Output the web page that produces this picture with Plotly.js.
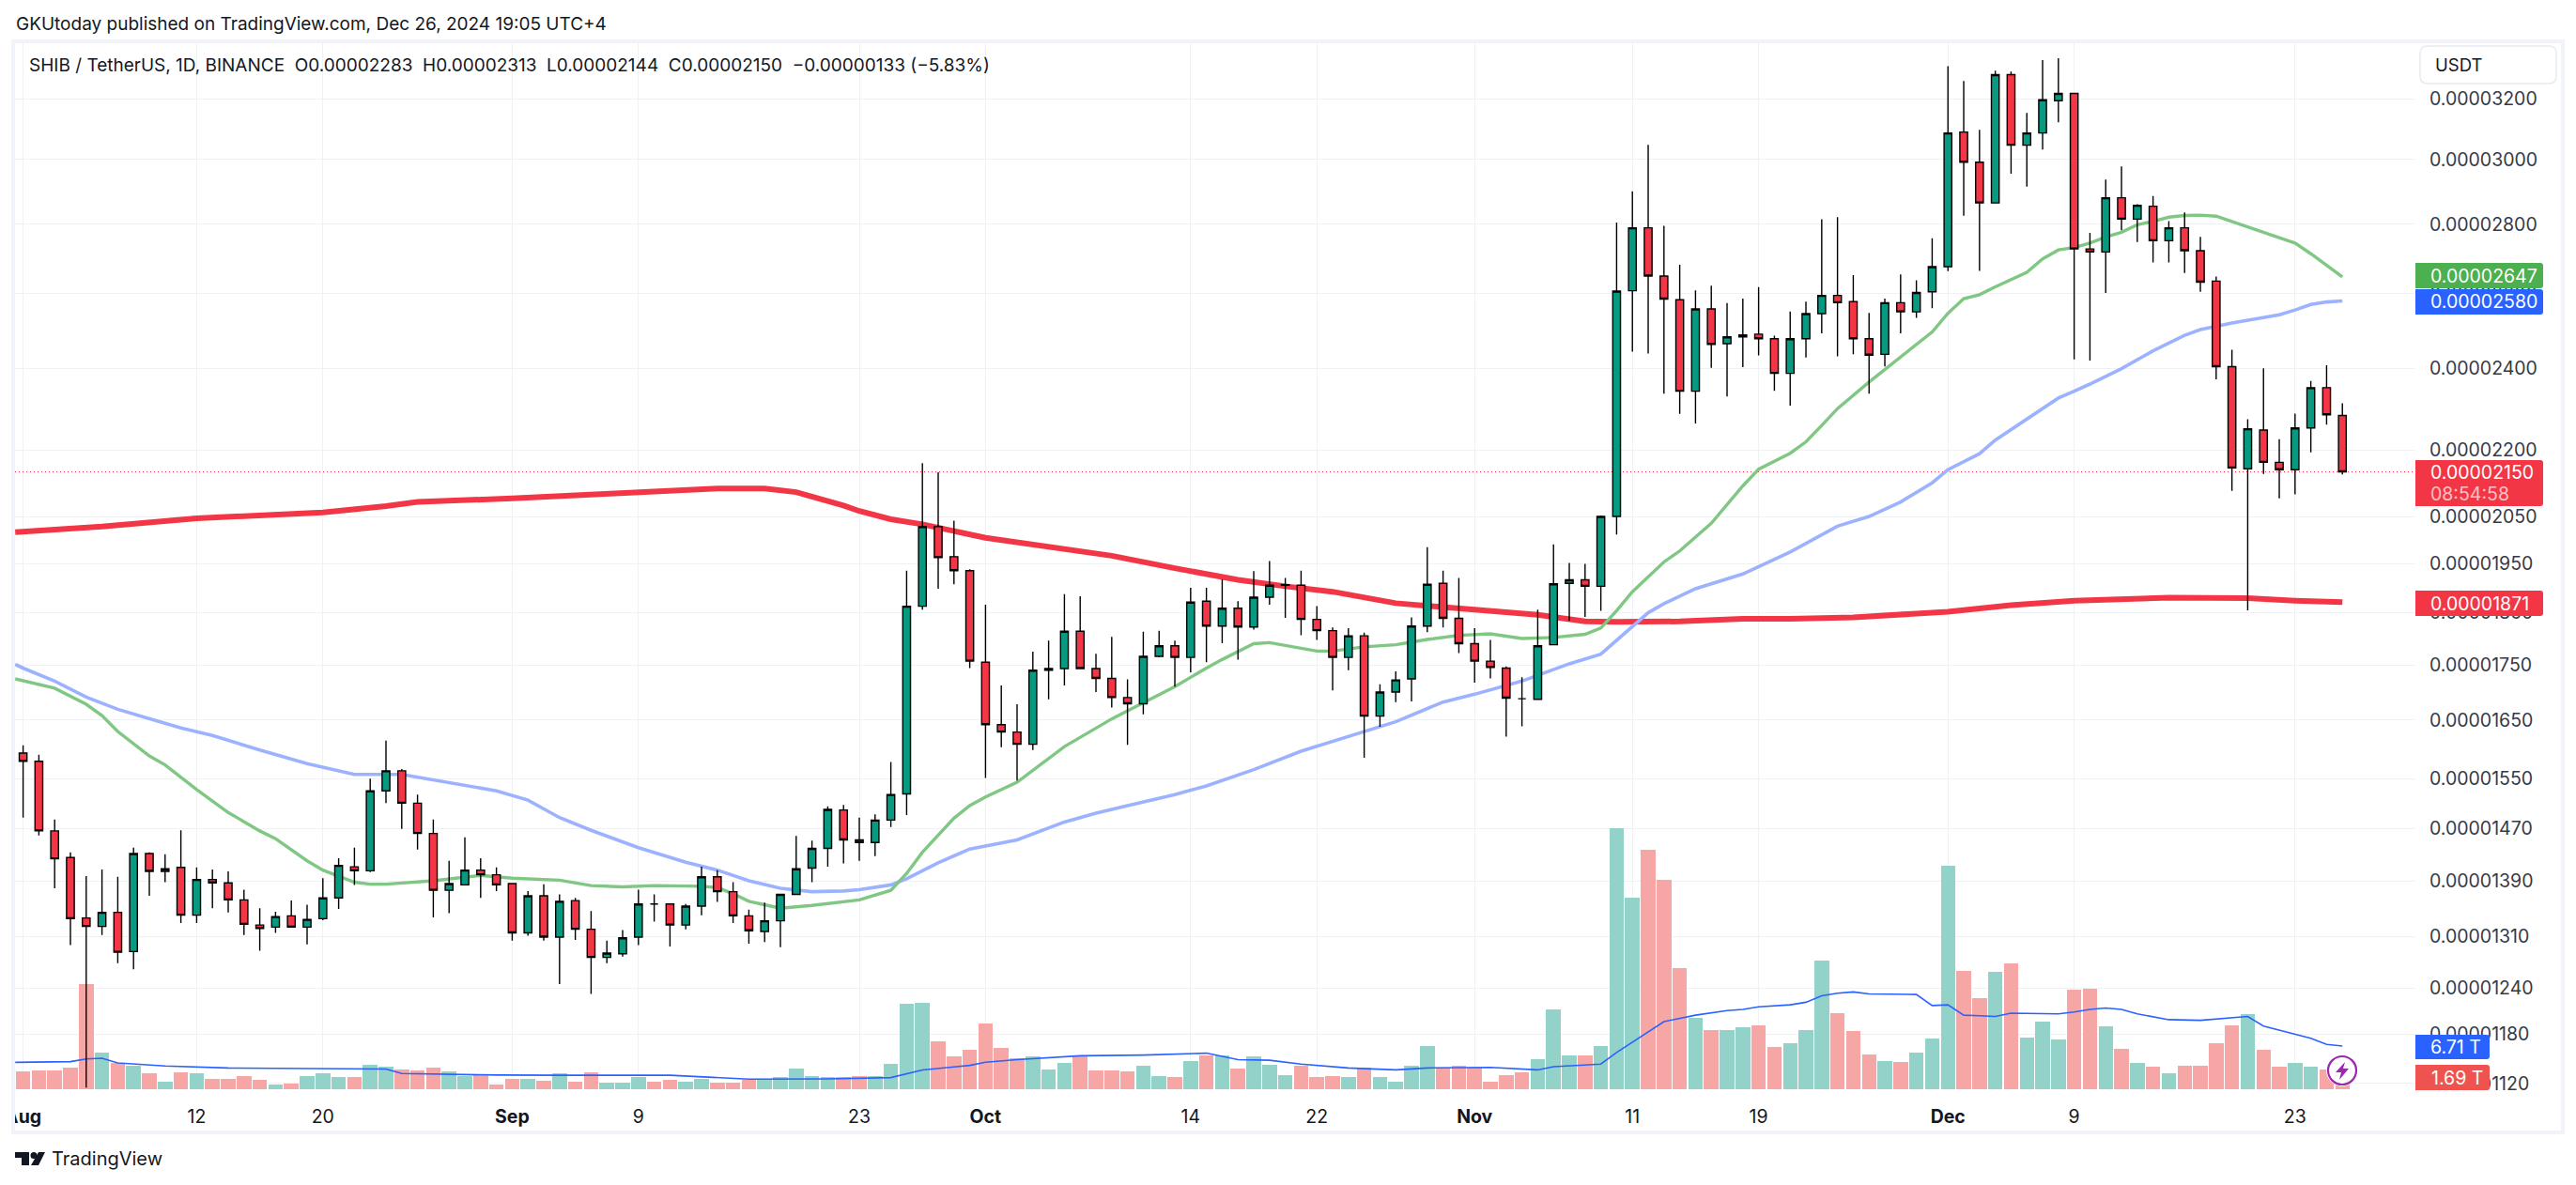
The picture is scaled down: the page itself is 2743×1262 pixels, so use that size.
<!DOCTYPE html>
<html>
<head>
<meta charset="utf-8">
<script src="https://cdn.plot.ly/plotly-3.0.1.min.js"></script>
<style>html,body{margin:0;padding:0;background:#fff;overflow:hidden}#chart{width:2743px;height:1262px}</style>
</head>
<body>
<div id="chart"></div>
<script>
// Prices are in units of 0.00000001 USDT, one entry per day from 1 Aug to 26 Dec 2024.
const firstDay = '2024-08-01';
const opens = [
1593,1579,1466,1425,1336,1324,1344,1289,1431,1404,1410,1340,1392,1387,1362,1326,1323,1339,1323,1335,1365,1411,1405,1530,1563,1510,1462,1376,1384,1406,1399,
1386,1315,1368,1309,1361,1320,1281,1286,1309,1356,1356,1326,1353,1396,1374,1339,1317,1332,1370,1409,1439,1499,1452,1448,1483,1525,1863,2028,1964,1935,
1755,1642,1629,1608,1740,1743,1814,1743,1725,1690,1679,1766,1786,1764,1873,1824,1859,1822,1881,1905,1905,1837,1815,1764,1805,1657,1700,1724,1824,1909,1839,
1790,1757,1744,1688,1687,1788,1909,1916,1903,2050,2608,2789,2649,2583,2343,2558,2465,2483,2490,2478,2388,2478,2545,2595,2578,2478,2437,2575,2550,2605,
2676,3089,2991,2864,3284,3046,3086,3194,3219,2727,2718,2880,2815,2854,2751,2789,2722,2635,2405,2157,2248,2172,2155,2253,2352,2283];
const highs = [
1606,1590,1484,1433,1397,1407,1396,1440,1433,1430,1467,1410,1407,1404,1377,1350,1345,1361,1355,1394,1424,1440,1550,1614,1566,1524,1484,1420,1456,1424,1410,
1387,1375,1385,1370,1365,1346,1304,1319,1377,1370,1357,1356,1411,1406,1388,1348,1358,1371,1458,1451,1505,1507,1487,1492,1578,1935,2170,2149,2041,1938,
1866,1712,1678,1775,1796,1887,1883,1771,1803,1723,1813,1815,1796,1900,1900,1917,1873,1934,1955,1920,1935,1863,1821,1820,1811,1714,1738,1841,1984,1935,1920,
1820,1797,1747,1727,1856,1990,1951,1949,2052,2805,2900,3047,2795,2681,2609,2622,2574,2586,2618,2486,2551,2578,2815,2821,2652,2547,2586,2654,2637,2758,
3314,3262,3096,3298,3295,3153,3335,3342,3219,2774,2936,2978,2860,2885,2809,2835,2762,2648,2449,2274,2401,2226,2288,2369,2409,2313];
const lows = [
1487,1459,1379,1298,1115,1312,1273,1265,1368,1388,1329,1329,1350,1344,1312,1290,1315,1323,1299,1333,1349,1384,1403,1510,1469,1437,1337,1343,1383,1365,1375,
1304,1311,1304,1245,1305,1232,1273,1282,1298,1331,1296,1320,1340,1359,1329,1300,1302,1295,1370,1388,1411,1416,1420,1427,1472,1491,1856,1898,1907,1744,
1551,1603,1547,1598,1687,1712,1743,1700,1672,1607,1660,1764,1710,1736,1755,1791,1760,1817,1866,1840,1806,1797,1703,1740,1585,1638,1682,1683,1812,1821,1772,
1717,1725,1621,1639,1687,1788,1834,1842,1854,2011,2444,2439,2337,2287,2264,2402,2330,2404,2434,2344,2307,2429,2492,2432,2437,2337,2406,2492,2534,2560,
2663,2825,2664,2864,2955,2914,3032,3121,2424,2421,2602,2782,2747,2688,2688,2658,2605,2373,2107,1855,2145,2090,2099,2195,2261,2144];
const closes = [
1579,1466,1423,1335,1324,1344,1288,1431,1404,1408,1340,1392,1387,1362,1327,1321,1338,1323,1334,1365,1413,1405,1530,1563,1510,1462,1376,1386,1406,1399,1384,
1315,1368,1309,1360,1320,1281,1287,1308,1356,1356,1326,1353,1396,1374,1339,1318,1332,1370,1408,1439,1500,1452,1448,1483,1524,1863,2028,1962,1935,1757,
1642,1629,1608,1740,1743,1814,1743,1725,1690,1679,1766,1786,1764,1871,1824,1859,1822,1881,1905,1906,1837,1815,1764,1805,1657,1700,1722,1824,1907,1839,1790,
1757,1745,1689,1688,1786,1908,1916,1903,2050,2607,2789,2649,2585,2343,2558,2463,2483,2488,2478,2388,2478,2545,2595,2575,2478,2435,2575,2550,2603,2676,
3086,2991,2864,3284,3046,3086,3197,3219,2727,2718,2880,2815,2857,2751,2789,2722,2632,2405,2159,2251,2172,2155,2253,2352,2285,2150];
// Daily volume, in trillions of SHIB
const volumes = [
2.76,2.93,2.93,3.36,16.37,5.69,4.01,3.69,2.49,1.14,2.60,2.49,1.57,1.57,2.06,1.46,0.70,0.87,2.06,2.49,1.90,1.90,3.79,3.47,3.04,2.93,3.36,2.76,2.11,2.22,0.70,
1.57,1.57,1.30,2.49,1.14,2.60,1.03,1.03,1.90,1.14,1.46,1.14,1.57,1.03,1.03,1.46,1.41,1.90,3.20,2.06,1.90,1.90,2.06,2.06,3.96,13.28,13.44,7.43,5.09,6.12,
10.19,6.40,4.82,5.09,3.04,4.07,5.09,2.93,2.93,2.76,3.63,2.06,1.90,4.39,5.31,5.26,3.20,5.09,3.79,2.17,3.66,1.87,2.00,1.87,3.32,1.87,1.11,3.59,6.70,3.32,3.59,
3.32,1.11,2.14,2.63,4.63,12.37,5.25,5.25,6.70,40.57,29.79,37.18,32.55,18.80,11.06,9.19,9.19,9.61,9.88,6.57,7.12,9.19,19.97,11.82,9.05,5.39,4.35,4.22,5.67,7.88,
34.69,18.40,14.14,18.22,19.53,8.02,10.50,7.73,15.45,15.60,9.77,6.27,4.08,3.50,2.48,3.64,3.64,7.14,9.91,11.66,6.12,3.50,4.08,3.50,3.06,1.69];

// Moving averages, read at the dates where the drawn line bends
const ema200Dates = ['07-31 12:00','08-06','08-12','08-20','08-24','08-26','09-01','09-09','09-14','09-17','09-19','09-22','09-23','09-25','09-27','10-01','10-04','10-09','10-13','10-17','10-20','10-23','10-27','10-29','11-01','11-05','11-08','11-10','11-14','11-18','11-21','11-25','12-01','12-05','12-09','12-15','12-18','12-20','12-23','12-26'];
const ema200Values = [2016,2028,2046,2059,2073,2082,2090,2104,2112,2112,2104,2074,2062,2044,2033,2004,1990,1966,1940,1916,1903,1892,1869,1863,1856,1846,1833,1832,1833,1838,1838,1841,1852,1865,1874,1880,1881,1879,1874,1871];
const ema20Dates = ['07-31 12:00','08-03','08-05','08-06','08-07','08-09','08-10','08-12','08-14','08-16','08-17','08-19','08-20','08-22','08-23','08-24','08-27','08-30','09-01','09-04','09-06','09-08','09-10','09-13','09-14','09-15','09-16','09-18','09-20','09-23','09-25','09-26','09-27','09-29','09-30','10-01','10-03','10-06','10-09','10-12','10-13','10-15','10-16','10-18','10-19','10-22','10-23','10-25','10-27','10-29','10-31','11-02','11-04','11-06','11-08','11-09','11-10','11-11','11-13','11-14','11-16','11-18','11-19','11-21','11-22','11-23','11-24','11-26','11-27','11-28','11-30','12-01','12-02','12-03','12-04','12-06','12-07','12-08','12-09','12-10','12-11','12-12','12-13','12-14','12-15','12-16','12-17','12-18','12-19','12-21','12-23','12-24','12-25','12-26'];
const ema20Values = [1724,1707,1678,1658,1630,1588,1573,1532,1495,1466,1454,1420,1406,1388,1385,1385,1390,1398,1394,1391,1383,1381,1383,1382,1380,1371,1360,1350,1354,1362,1376,1401,1433,1486,1506,1520,1544,1604,1652,1696,1710,1744,1760,1790,1792,1776,1776,1784,1788,1798,1806,1809,1800,1802,1808,1820,1854,1892,1953,1976,2035,2118,2156,2193,2220,2259,2300,2366,2398,2429,2496,2546,2586,2597,2619,2660,2698,2724,2731,2744,2762,2776,2798,2808,2821,2826,2827,2824,2808,2776,2744,2713,2681,2647];
const ema50Dates = ['07-31 12:00','08-01','08-03','08-05','08-07','08-11','08-13','08-16','08-19','08-22','08-25','08-28','08-31','09-02','09-04','09-06','09-09','09-12','09-14','09-16','09-18','09-20','09-22','09-23','09-25','09-26','09-28','09-30','10-01','10-03','10-06','10-08','10-10','10-13','10-15','10-18','10-21','10-24','10-27','10-30','11-01','11-04','11-07','11-09','11-10','11-11','11-12','11-13','11-15','11-18','11-21','11-24','11-26','11-28','11-30','12-01','12-02','12-03','12-04','12-06','12-08','12-09','12-10','12-12','12-14','12-16','12-17','12-19','12-21','12-22','12-23','12-24','12-25','12-26'];
const ema50Values = [1751,1744,1720,1691,1669,1636,1623,1598,1575,1557,1557,1544,1530,1515,1487,1467,1440,1418,1406,1390,1379,1374,1375,1377,1384,1393,1417,1438,1443,1452,1480,1494,1506,1524,1538,1565,1596,1622,1647,1682,1696,1720,1752,1770,1797,1824,1850,1868,1898,1928,1974,2029,2050,2082,2125,2155,2174,2192,2224,2274,2326,2343,2361,2400,2446,2487,2502,2520,2534,2542,2555,2570,2577,2580];
const volMaDates = ['07-31 12:00','08-04','08-05','08-06','08-07','08-10','08-14','08-20','08-24','08-25','08-29','08-31','09-04','09-11','09-16','09-21','09-25','09-27','09-30','10-01','10-03','10-07','10-11','10-15','10-17','10-19','10-21','10-24','10-27','10-29','11-02','11-05','11-06','11-09','11-10','11-11','11-13','11-15','11-17','11-18','11-19','11-21','11-22','11-23','11-24','11-25','11-26','11-29','11-30','12-01','12-02','12-03','12-04','12-05','12-08','12-09','12-10','12-11','12-12','12-13','12-15','12-17','12-19','12-20','12-21','12-23','12-24','12-25','12-26'];
const volMaValues = [4.17,4.28,4.70,4.80,4.07,3.60,3.30,3.25,3.14,2.44,2.28,2.20,2.17,2.17,1.57,1.60,1.80,2.98,3.70,4.20,4.60,5.20,5.30,5.60,4.60,4.50,3.90,3.30,3.00,3.30,3.40,3.00,3.50,3.90,5.70,7.30,10.50,11.50,12.20,12.40,12.80,13.10,13.50,14.50,14.90,15.10,14.80,14.70,13.00,13.10,11.50,11.40,11.30,11.80,11.70,12.00,12.40,12.60,12.40,11.70,10.80,10.70,11.10,11.30,9.80,8.60,7.90,6.95,6.71];

const priceTicks = ['0.00003200','0.00003000','0.00002800','0.00002600','0.00002400','0.00002200','0.00002050','0.00001950','0.00001850','0.00001750','0.00001650','0.00001550','0.00001470','0.00001390','0.00001310','0.00001240','0.00001180','0.00001120'];
const dateTickValues = ['2024-08-01','2024-08-12','2024-08-20','2024-09-01','2024-09-09','2024-09-23','2024-10-01','2024-10-14','2024-10-22','2024-11-01','2024-11-11','2024-11-19','2024-12-01','2024-12-09','2024-12-23'];
const dateTickLabels = ['<b>Aug</b>','12','20','<b>Sep</b>','9','23','<b>Oct</b>','14','22','<b>Nov</b>','11','19','<b>Dec</b>','9','23'];

const W = 2743, H = 1262;
const px = v => v / W, py = v => 1 - v / H;
const DAY = 86400000;
const UP = '#089981', DOWN = '#F23645';
const FONT = 'Inter, "Liberation Sans", sans-serif';

const dates = closes.map((_, i) => new Date(Date.parse(firstDay + 'T00:00:00Z') + i * DAY).toISOString().slice(0, 10));
const price = a => a.map(v => v * 1e-8);
const full = a => a.map(d => '2024-' + d);
const isUp = closes.map((c, i) => c > opens[i]);

const xRange = ['2024-07-31 11:43', '2024-12-30 13:40'];
const priceRange = [Math.log10(1113e-8), Math.log10(3396e-8)];
const domainY = [py(1160), py(46)];

const traces = [
  {type: 'bar', x: dates, y: volumes, xaxis: 'x', yaxis: 'y', width: 0.92 * DAY,
   marker: {color: isUp.map(u => u ? '#92D2C9' : '#F7A6A6'), line: {width: 0}}, hoverinfo: 'skip'},
  {type: 'scatter', mode: 'lines', x: full(volMaDates), y: volMaValues, xaxis: 'x', yaxis: 'y',
   line: {color: '#2962FF', width: 1.6}, hoverinfo: 'skip'},
  {type: 'scatter', mode: 'lines', x: xRange, y: [closes[closes.length - 1] * 1e-8, closes[closes.length - 1] * 1e-8], xaxis: 'x', yaxis: 'y2',
   line: {color: '#F23645', width: 1, dash: '1px 3px'}, hoverinfo: 'skip'},
  {type: 'scatter', mode: 'lines', x: full(ema200Dates), y: price(ema200Values), xaxis: 'x', yaxis: 'y2',
   line: {color: '#F23645', width: 6}, hoverinfo: 'skip'},
  {type: 'scatter', mode: 'lines', x: full(ema50Dates), y: price(ema50Values), xaxis: 'x', yaxis: 'y2',
   line: {color: '#9DB2FF', width: 3.6}, hoverinfo: 'skip'},
  {type: 'scatter', mode: 'lines', x: full(ema20Dates), y: price(ema20Values), xaxis: 'x', yaxis: 'y2',
   line: {color: '#81C784', width: 3.4}, hoverinfo: 'skip'},
  {type: 'candlestick', x: dates, open: price(opens), high: price(highs), low: price(lows), close: price(closes),
   xaxis: 'x', yaxis: 'y3', width: 0.655 * DAY, whiskerwidth: 0,
   increasing: {line: {color: '#000', width: 1.4}, fillcolor: UP},
   decreasing: {line: {color: '#000', width: 1.4}, fillcolor: DOWN}, hoverinfo: 'skip'}
];

const rectPx = (x0, y0, x1, y1, fill, extra) => Object.assign({type: 'rect', xref: 'paper', yref: 'paper',
  x0: px(x0), x1: px(x1), y0: py(y0), y1: py(y1), fillcolor: fill, line: {width: 0}, layer: 'above'}, extra || {});
const pathPx = (pts, fill) => ({type: 'path', xref: 'paper', yref: 'paper', layer: 'above', fillcolor: fill, line: {width: 0},
  path: 'M' + pts.map(p => px(p[0]) + ',' + py(p[1])).join(' L') + ' Z'});
const roundPx = (x0, y0, x1, y1, r, fill) => {
  const f = (x, y) => px(x) + ',' + py(y);
  return {type: 'path', xref: 'paper', yref: 'paper', layer: 'above', fillcolor: fill, line: {width: 0},
    path: 'M' + f(x0, y0) + ' L' + f(x1 - r, y0) + ' Q' + f(x1, y0) + ' ' + f(x1, y0 + r) +
          ' L' + f(x1, y1 - r) + ' Q' + f(x1, y1) + ' ' + f(x1 - r, y1) + ' L' + f(x0, y1) + ' Z'};
};
const BORDER = '#F0F3FA';
const shapes = [
  rectPx(0, 1160, 12, 1204, '#FFFFFF'),
  rectPx(12, 42, 16, 1208, BORDER),
  rectPx(12, 42, 2731, 46, BORDER),
  rectPx(2727, 42, 2731, 1208, BORDER),
  rectPx(12, 1204, 2731, 1208, BORDER),
  {type: 'path', xref: 'paper', yref: 'paper', layer: 'above', fillcolor: '#FFFFFF', line: {color: '#E8EAF2', width: 1.5},
   path: 'M' + px(2585) + ',' + py(49) + ' L' + px(2714) + ',' + py(49) + ' Q' + px(2722) + ',' + py(49) + ' ' + px(2722) + ',' + py(57) +
         ' L' + px(2722) + ',' + py(81) + ' Q' + px(2722) + ',' + py(89) + ' ' + px(2714) + ',' + py(89) +
         ' L' + px(2585) + ',' + py(89) + ' Q' + px(2577) + ',' + py(89) + ' ' + px(2577) + ',' + py(81) +
         ' L' + px(2577) + ',' + py(57) + ' Q' + px(2577) + ',' + py(49) + ' ' + px(2585) + ',' + py(49) + ' Z'},
  roundPx(2572, 280, 2708, 307, 3, '#4CAF50'),
  roundPx(2572, 308, 2708, 335, 3, '#2962FF'),
  roundPx(2572, 490, 2708, 539, 3, '#F23645'),
  roundPx(2572, 629, 2708, 656, 3, '#F23645'),
  roundPx(2572, 1102, 2651, 1128, 3, '#2962FF'),
  roundPx(2572, 1134, 2651, 1161, 3, '#EF5350'),
  {type: 'circle', xref: 'paper', yref: 'paper', layer: 'above', x0: px(2477.5), x1: px(2510.5), y0: py(1156.5), y1: py(1123.5),
   fillcolor: '#FFFFFF', line: {color: '#FFFFFF', width: 1}},
  {type: 'circle', xref: 'paper', yref: 'paper', layer: 'above', x0: px(2479), x1: px(2509), y0: py(1155), y1: py(1125),
   fillcolor: '#FFFFFF', line: {color: '#9C27B0', width: 2.2}},
  pathPx([[2497, 1131], [2487, 1142], [2493, 1142], [2491, 1150], [2501, 1138], [2495, 1138]], '#9C27B0'),
  pathPx([[16, 1227], [31, 1227], [31, 1241], [23, 1241], [23, 1233], [16, 1233]], '#131722'),
  {type: 'circle', xref: 'paper', yref: 'paper', layer: 'above', x0: px(32.5), x1: px(39.5), y0: py(1234), y1: py(1227), fillcolor: '#131722', line: {width: 0}},
  pathPx([[41, 1227], [48, 1227], [41, 1241], [33, 1241]], '#131722')
];

const note = (x, y, text, size, color, extra) => Object.assign({xref: 'paper', yref: 'paper', x: px(x), y: py(y), text: text, showarrow: false,
  xanchor: 'left', yanchor: 'middle', align: 'left', font: {family: FONT, size: size, color: color}}, extra || {});
const annotations = [
  note(15, 26, 'GKUtoday published on TradingView.com, Dec 26, 2024 19:05 UTC+4', 19, '#131722'),
  note(29, 69, 'SHIB / TetherUS, 1D, BINANCE  O0.00002283  H0.00002313  L0.00002144  C0.00002150  −0.00000133 (−5.83%)', 19, '#131722'),
  note(53, 1234, 'TradingView', 20, '#131722'),
  note(2591, 69, 'USDT', 18.5, '#131722'),
  note(2586, 293.5, '0.00002647', 19.5, '#FFFFFF'),
  note(2586, 321.5, '0.00002580', 19.5, '#FFFFFF'),
  note(2586, 503, '0.00002150', 19.5, '#FFFFFF'),
  note(2586, 526, '08:54:58', 19.5, 'rgba(255,255,255,0.7)'),
  note(2586, 642.5, '0.00001871', 19.5, '#FFFFFF'),
  note(2586, 1115, '6.71 T', 19.5, '#FFFFFF'),
  note(2587, 1148, '1.69 T', 19.5, '#FFFFFF')
];

const layout = {
  width: W, height: H, margin: {l: 0, r: 0, t: 0, b: 0}, paper_bgcolor: '#FFFFFF', plot_bgcolor: '#FFFFFF',
  showlegend: false, hovermode: false, dragmode: false, barmode: 'overlay', bargap: 0,
  xaxis: {type: 'date', domain: [px(16), px(2571)], range: xRange, anchor: 'y3', rangeslider: {visible: false},
    tickmode: 'array', tickvals: dateTickValues, ticktext: dateTickLabels, tickangle: 0, ticks: '', ticklabelstandoff: 15,
    tickfont: {family: FONT, size: 19.5, color: '#131722'}, showgrid: true, gridcolor: '#F0F1F5', gridwidth: 1, zeroline: false, showline: false},
  yaxis: {domain: domainY, range: [0, 162.4], visible: false, fixedrange: true, showgrid: false, zeroline: false},
  yaxis2: {domain: domainY, overlaying: 'y', type: 'log', range: priceRange, visible: false, fixedrange: true, showgrid: false, zeroline: false},
  yaxis3: {domain: domainY, overlaying: 'y', type: 'log', range: priceRange, side: 'right', anchor: 'x', fixedrange: true,
    tickmode: 'array', tickvals: priceTicks.map(Number), ticktext: priceTicks, ticks: '', ticklabelstandoff: 15,
    tickfont: {family: FONT, size: 19.5, color: '#363A45'}, showgrid: true, gridcolor: '#F0F1F5', gridwidth: 1, zeroline: false, showline: false},
  shapes: shapes, annotations: annotations
};
Plotly.newPlot('chart', traces, layout, {displayModeBar: false, staticPlot: true});
</script>
</body>
</html>
